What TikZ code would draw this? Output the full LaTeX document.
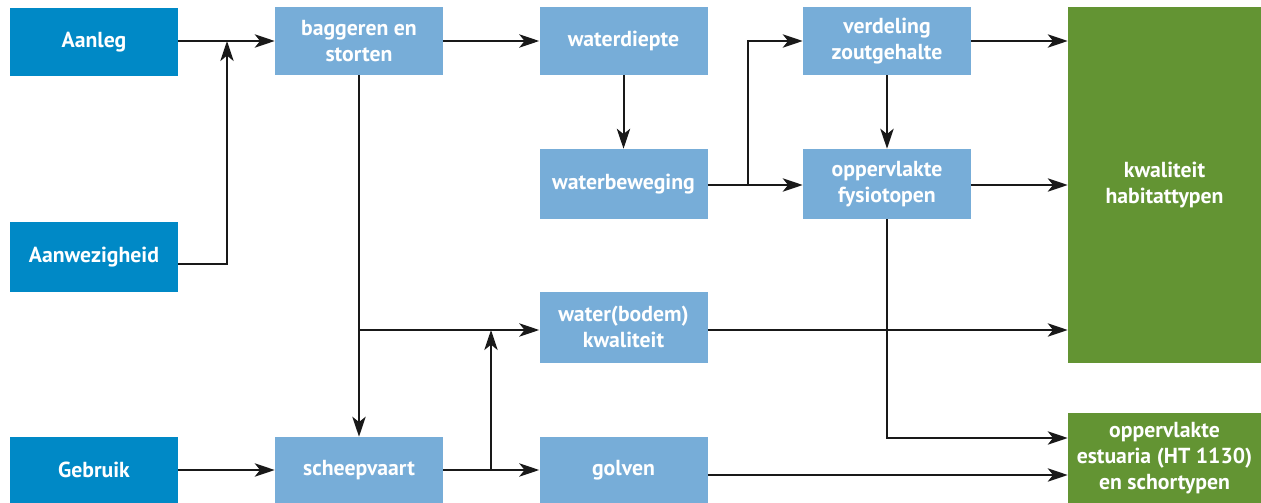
\documentclass[tikz,border=0pt]{standalone}
\usepackage{fontspec}
\setmainfont{PT Sans}
\usetikzlibrary{arrows.meta}
\definecolor{darkblue}{HTML}{0089C6}
\definecolor{lightblue}{HTML}{77ADD8}
\definecolor{leafgreen}{HTML}{639433}
\begin{document}
\begin{tikzpicture}[x=0.75pt,y=-0.75pt,
  box/.style={inner sep=0pt,align=center,text=white,
    font=\bfseries\fontsize{16.3}{19.5}\selectfont},
  cause/.style={box,fill=darkblue,minimum width=126pt},
  effect/.style={box,fill=lightblue,minimum width=126pt},
  goal/.style={box,fill=leafgreen,minimum width=144.75pt},
  arr/.style={line width=1.5pt,draw=black!90,
    -{Stealth[length=15pt,width=10pt,inset=4pt]}}]
\useasboundingbox (0,0) rectangle (1261,503);
% sources
\node[cause,minimum height=51pt] (aanleg) at (94,42) {Aanleg};
\node[cause,minimum height=53pt] (aanw) at (94,257) {Aanwezigheid};
\node[cause,minimum height=49.5pt] (gebr) at (94,470) {Gebruik};
% intermediate effects
\node[effect,minimum height=51pt] (bag) at (359,41) {baggeren en\\storten};
\node[effect,minimum height=49.5pt] (schv) at (359,470) {scheepvaart};
\node[effect,minimum height=51pt] (wd) at (623.5,41) {waterdiepte};
\node[effect,minimum height=52.5pt] (wb) at (623.5,184) {waterbeweging};
\node[effect,minimum height=53.25pt] (wk) at (623.5,327) {water(bodem)\\kwaliteit};
\node[effect,minimum height=49.5pt] (golv) at (623.5,470) {golven};
\node[effect,minimum height=51pt] (vz) at (887,41) {verdeling\\zoutgehalte};
\node[effect,minimum height=52.5pt] (fys) at (887,184) {oppervlakte\\fysiotopen};
% outcomes
\node[goal,minimum height=267pt] (kw) at (1164.5,185) {kwaliteit\\habitattypen};
\node[goal,minimum height=67.5pt] (est) at (1164.5,458) {oppervlakte\\estuaria (HT 1130)\\en schortypen};
% junctions
\coordinate (j1) at (227,41);
\coordinate (j2) at (359,330);
\coordinate (j3) at (491,470);
\coordinate (j4) at (748,185);
% connectors
\draw[arr] (aanleg.east |- j1) -- (bag.west |- j1);
\draw[arr] ([yshift=-5.25pt]aanw.east) -| (j1);
\draw[arr] (bag) -- (schv);
\draw[arr] (j2) -- (wk.west |- j2);
\draw[arr] (gebr) -- (schv);
\draw[arr] (schv) -- (golv);
\draw[arr] (j3) -- (j3 |- j2);
\draw[arr] (bag) -- (wd);
\draw[arr] (wd) -- (wb);
\draw[arr] (wb.east |- j4) -- (fys.west |- j4);
\draw[arr] (j4) |- (vz);
\draw[arr] (vz) -- (fys);
\draw[arr] (vz) -- (kw.west |- vz);
\draw[arr] (fys.east |- j4) -- (kw.west |- j4);
\draw[arr] (wk.east |- j2) -- (kw.west |- j2);
\draw[arr] (fys) |- ([yshift=15pt]est.west);
\draw[arr] ([yshift=-3.75pt]golv.east) -- ([yshift=-3.75pt]est.west |- golv);
\end{tikzpicture}
\end{document}
